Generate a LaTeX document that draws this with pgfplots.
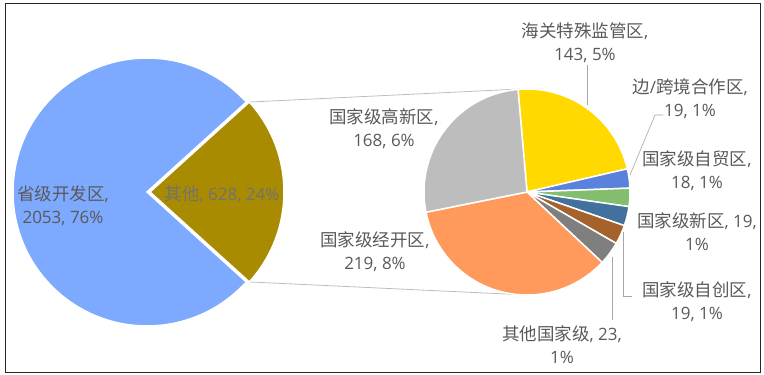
\documentclass[border=0pt]{standalone}
\usepackage{pgfplots}
\pgfplotsset{compat=1.18}
\usepackage{fontspec}
\setmainfont{Open Sans}
\newfontfamily\cjk{Noto Sans CJK SC}
\newcommand\C[1]{{\cjk\fontsize{17.5}{23}\selectfont #1}}
\definecolor{lblue}{HTML}{7DAAFF}
\definecolor{olive}{HTML}{A88B00}
\definecolor{cyel}{HTML}{FFD900}
\definecolor{cblu}{HTML}{5A82DC}
\definecolor{cgrn}{HTML}{82BE6E}
\definecolor{cdblu}{HTML}{41719C}
\definecolor{cbrn}{HTML}{A5622A}
\definecolor{cgry}{HTML}{7F7F7F}
\definecolor{corg}{HTML}{FF9A5C}
\definecolor{clgry}{HTML}{BDBDBD}
\definecolor{lbl}{HTML}{595959}
\definecolor{lead}{HTML}{A6A6A6}
% ---- data ----
\def\vProv{2053}\def\vOther{628}
\def\vA{143}\def\vB{19}\def\vC{18}\def\vD{19}\def\vE{19}\def\vF{23}\def\vG{219}\def\vH{168}
\pgfmathsetmacro\half{180*(\vOther/(\vProv+\vOther))}
\pgfmathsetmacro\hcx{150+134*cos(\half)}
\pgfmathsetmacro\hcy{134*sin(\half)}
\pgfmathsetmacro\aA{95}
\pgfmathsetmacro\aB{\aA-\vA/\vOther*360}
\pgfmathsetmacro\aC{\aB-\vB/\vOther*360}
\pgfmathsetmacro\aD{\aC-\vC/\vOther*360}
\pgfmathsetmacro\aE{\aD-\vD/\vOther*360}
\pgfmathsetmacro\aF{\aE-\vE/\vOther*360}
\pgfmathsetmacro\aG{\aF-\vF/\vOther*360}
\pgfmathsetmacro\aH{\aG-\vG/\vOther*360}
\pgfmathsetmacro\aI{\aH-\vH/\vOther*360}
\begin{document}
\begin{tikzpicture}
\begin{axis}[width=764pt,height=375pt,scale only axis,at={(0,0)},anchor=south west,
  xmin=0,xmax=764,ymin=0,ymax=375,hide axis,clip=false]
\draw[black!85,line width=0.8pt] (axis cs:5,3) rectangle (axis cs:760,372);
% connector lines
\draw[clgry,line width=0.8pt] (axis cs:\hcx,183+\hcy) -- (axis cs:520,286);
\draw[clgry,line width=0.8pt] (axis cs:\hcx,183-\hcy) -- (axis cs:527,80);
% left pie
\fill[lblue,draw=white,line width=1.5pt] (axis cs:147,183) -- ++(\half:134pt)
  arc[start angle=\half,end angle=360-\half,radius=134pt] -- cycle;
\fill[olive,draw=white,line width=1.5pt] (axis cs:150,183) -- ++(-\half:134pt)
  arc[start angle=-\half,end angle=\half,radius=134pt] -- cycle;
% right pie
\fill[cyel,draw=white,line width=1.5pt] (axis cs:527,183) -- ++(\aA:103pt) arc[start angle=\aA,end angle=\aB,radius=103pt] -- cycle;
\fill[cblu,draw=white,line width=1.5pt] (axis cs:527,183) -- ++(\aB:103pt) arc[start angle=\aB,end angle=\aC,radius=103pt] -- cycle;
\fill[cgrn,draw=white,line width=1.5pt] (axis cs:527,183) -- ++(\aC:103pt) arc[start angle=\aC,end angle=\aD,radius=103pt] -- cycle;
\fill[cdblu,draw=white,line width=1.5pt] (axis cs:527,183) -- ++(\aD:103pt) arc[start angle=\aD,end angle=\aE,radius=103pt] -- cycle;
\fill[cbrn,draw=white,line width=1.5pt] (axis cs:527,183) -- ++(\aE:103pt) arc[start angle=\aE,end angle=\aF,radius=103pt] -- cycle;
\fill[cgry,draw=white,line width=1.5pt] (axis cs:527,183) -- ++(\aF:103pt) arc[start angle=\aF,end angle=\aG,radius=103pt] -- cycle;
\fill[corg,draw=white,line width=1.5pt] (axis cs:527,183) -- ++(\aG:103pt) arc[start angle=\aG,end angle=\aH,radius=103pt] -- cycle;
\fill[clgry,draw=white,line width=1.5pt] (axis cs:527,183) -- ++(\aH:103pt) arc[start angle=\aH,end angle=\aI,radius=103pt] -- cycle;
% leader lines
\draw[lead,line width=0.6pt] (axis cs:587,310) -- (axis cs:587,270);
\draw[lead,line width=0.6pt] (axis cs:663,260) -- (axis cs:655,260) -- (axis cs:630,200);
\draw[lead,line width=0.6pt] (axis cs:632,79) -- (axis cs:623,79) -- (axis cs:623,143);
\draw[lead,line width=0.6pt] (axis cs:612,118) -- (axis cs:612,55);
% labels
\tikzset{lab/.style={font=\fontsize{17}{23}\selectfont,text=lbl,align=center,inner sep=0pt}}
\node[lab] at (axis cs:63,169) {\C{省级开发区},\\2053, 76\%};
\node[lab,text=lbl!85] at (axis cs:222,181) {\C{其他}, 628, 24\%};
\node[lab] at (axis cs:585,332.5) {\C{海关特殊监管区},\\143, 5\%};
\node[lab] at (axis cs:690,276) {\C{边}/\C{跨境合作区},\\19, 1\%};
\node[lab] at (axis cs:697,204) {\C{国家级自贸区},\\18, 1\%};
\node[lab] at (axis cs:697,143.5) {\C{国家级新区}, 19,\\1\%};
\node[lab] at (axis cs:697,73.5) {\C{国家级自创区},\\19, 1\%};
\node[lab] at (axis cs:562,30.5) {\C{其他国家级}, 23,\\1\%};
\node[lab] at (axis cs:384,246) {\C{国家级高新区},\\168, 6\%};
\node[lab] at (axis cs:375,123.5) {\C{国家级经开区},\\219, 8\%};
\end{axis}
\pgfresetboundingbox
\path[use as bounding box] (0,0) rectangle (764pt,375pt);
\end{tikzpicture}
\end{document}
